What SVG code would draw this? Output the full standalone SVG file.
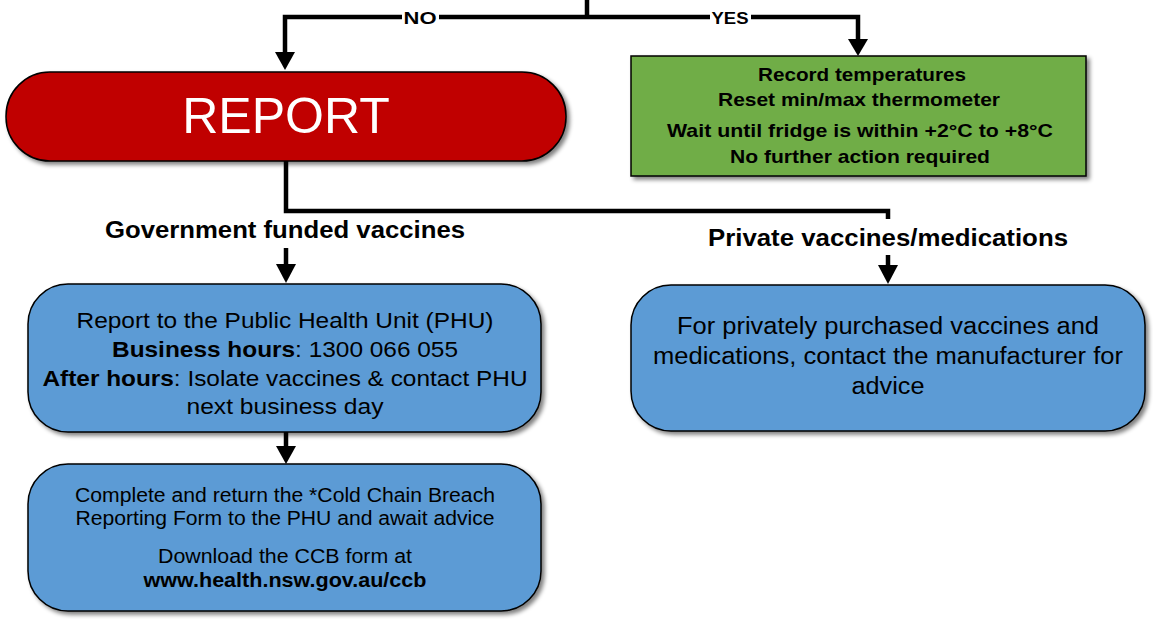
<svg xmlns="http://www.w3.org/2000/svg" width="1153" height="619" viewBox="0 0 1153 619">
<style>
  .conn { fill: none; stroke: #000; stroke-width: 4.5; stroke-linejoin: miter; stroke-linecap: butt; }
  .box { stroke: #000; stroke-width: 1.5; filter: url(#shadow); }
  .blue { fill: #5B9BD5; }
  .t { font-family: "Liberation Sans", Arial, sans-serif; fill: #000; text-anchor: middle; }
  .b { font-weight: bold; }
  .lbl { font-family: "Liberation Sans", Arial, sans-serif; font-weight: bold; text-anchor: middle; fill: #000; }
</style>
<defs>
  <filter id="shadow" x="-5%" y="-10%" width="115%" height="130%">
    <feGaussianBlur in="SourceAlpha" stdDeviation="2"/>
    <feOffset dx="3" dy="3" result="o"/>
    <feComponentTransfer><feFuncA type="linear" slope="0.5"/></feComponentTransfer>
    <feMerge><feMergeNode/><feMergeNode in="SourceGraphic"/></feMerge>
  </filter>
</defs>
<rect width="1153" height="619" fill="#fff"/>

<g id="top-box">
  <rect class="box" x="172" y="-60" width="835" height="58" fill="#fff"/>
</g>

<g id="connectors">
  <path class="conn" d="M587,0 V17"/>
  <path class="conn" d="M587,17 H285 V52"/>
  <path d="M275,52 L295,52 L285,70 Z" fill="#000"/>
  <path class="conn" d="M587,17 H858 V40"/>
  <path d="M848,39 L868,39 L858,56 Z" fill="#000"/>
  <path class="conn" d="M286,161 V211 H888 V219"/>
  <path class="conn" d="M286,248 V265"/>
  <path d="M276,264 L296,264 L286,283 Z" fill="#000"/>
  <path class="conn" d="M888,255 V266"/>
  <path d="M878,265 L898,265 L888,284 Z" fill="#000"/>
  <path class="conn" d="M286,432 V447"/>
  <path d="M276,446 L296,446 L286,464 Z" fill="#000"/>
  <rect x="402" y="8" width="37" height="19" fill="#fff"/>
  <text class="lbl" x="420" y="24" font-size="17" textLength="33" lengthAdjust="spacingAndGlyphs">NO</text>
  <rect x="710" y="8" width="41" height="19" fill="#fff"/>
  <text class="lbl" x="730" y="24" font-size="17" textLength="37" lengthAdjust="spacingAndGlyphs">YES</text>
  <text class="lbl" x="285" y="238" font-size="23" textLength="360" lengthAdjust="spacingAndGlyphs">Government funded vaccines</text>
  <text class="lbl" x="888" y="246" font-size="23" textLength="360" lengthAdjust="spacingAndGlyphs">Private vaccines/medications</text>
</g>

<g id="report">
  <rect class="box" x="6" y="72" width="560" height="89" rx="44" ry="44" fill="#C00000"/>
  <text x="286" y="133" font-family="Liberation Sans, Arial, sans-serif" font-size="50" fill="#fff" text-anchor="middle">REPORT</text>
</g>

<g id="ok-box">
  <rect class="box" x="631" y="56" width="455" height="120" fill="#70AD47"/>
  <text class="t b" x="862" y="81" font-size="19" textLength="208" lengthAdjust="spacingAndGlyphs">Record temperatures</text>
  <text class="t b" x="859" y="106" font-size="19" textLength="282" lengthAdjust="spacingAndGlyphs">Reset min/max thermometer</text>
  <text class="t b" x="860" y="137" font-size="19" textLength="386" lengthAdjust="spacingAndGlyphs">Wait until fridge is within +2°C to +8°C</text>
  <text class="t b" x="860" y="163" font-size="19" textLength="260" lengthAdjust="spacingAndGlyphs">No further action required</text>
</g>

<g id="phu-box">
  <rect class="box blue" x="28" y="284" width="513" height="148" rx="40" ry="40"/>
  <text class="t" x="285" y="328" font-size="22" textLength="417" lengthAdjust="spacingAndGlyphs">Report to the Public Health Unit (PHU)</text>
  <text class="t" x="285" y="357" font-size="22" textLength="346" lengthAdjust="spacingAndGlyphs"><tspan class="b">Business hours</tspan>: 1300 066 055</text>
  <text class="t" x="285" y="386" font-size="22" textLength="485" lengthAdjust="spacingAndGlyphs"><tspan class="b">After hours</tspan>: Isolate vaccines &amp; contact PHU</text>
  <text class="t" x="285" y="414" font-size="22" textLength="197" lengthAdjust="spacingAndGlyphs">next business day</text>
</g>

<g id="form-box">
  <rect class="box blue" x="28" y="464" width="513" height="147" rx="40" ry="40"/>
  <text class="t" x="285" y="502" font-size="19.5" textLength="420" lengthAdjust="spacingAndGlyphs">Complete and return the *Cold Chain Breach</text>
  <text class="t" x="285" y="525" font-size="19.5" textLength="419" lengthAdjust="spacingAndGlyphs">Reporting Form to the PHU and await advice</text>
  <text class="t" x="285" y="563" font-size="19.5" textLength="254" lengthAdjust="spacingAndGlyphs">Download the CCB form at</text>
  <text class="t b" x="285" y="587" font-size="19.5" textLength="283" lengthAdjust="spacingAndGlyphs">www.health.nsw.gov.au/ccb</text>
</g>

<g id="private-box">
  <rect class="box blue" x="631" y="285" width="514" height="146" rx="40" ry="40"/>
  <text class="t" x="888" y="334" font-size="23.5" textLength="422" lengthAdjust="spacingAndGlyphs">For privately purchased vaccines and</text>
  <text class="t" x="888" y="364" font-size="23.5" textLength="470" lengthAdjust="spacingAndGlyphs">medications, contact the manufacturer for</text>
  <text class="t" x="888" y="394" font-size="23.5" textLength="73" lengthAdjust="spacingAndGlyphs">advice</text>
</g>
</svg>
